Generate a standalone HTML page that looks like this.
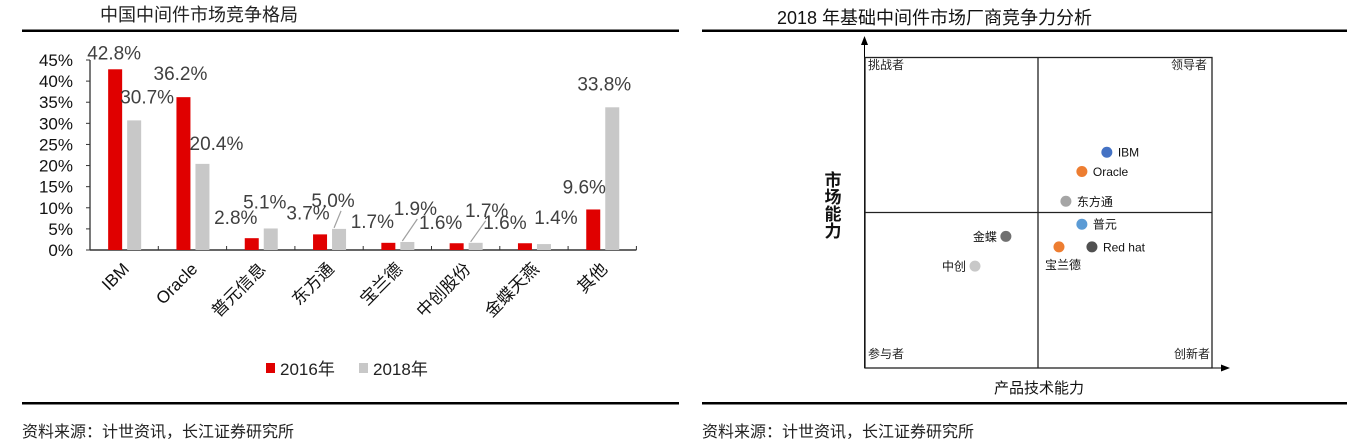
<!DOCTYPE html>
<html><head><meta charset="utf-8"><style>
html,body{margin:0;padding:0;background:#fff;}
svg{display:block;font-family:"Liberation Sans","Noto Sans CJK SC",sans-serif;}
</style></head><body>
<svg id="s" width="1358" height="441" viewBox="0 0 1358 441" xmlns="http://www.w3.org/2000/svg">
<g>
<text x="100" y="21" font-size="18" fill="#222">中国中间件市场竞争格局</text>
<rect x="22" y="29.5" width="657" height="2.5" fill="#000"/>
<rect x="22" y="402" width="657" height="2.5" fill="#000"/>
<text x="22" y="437" font-size="16" fill="#222">资料来源：计世资讯，长江证券研究所</text>
<g id="bars"></g>
<g>
<rect x="266" y="363" width="9" height="10" fill="#e00000"/>
<text x="280" y="375" font-size="17" fill="#222">2016年</text>
<rect x="359" y="363" width="9" height="10" fill="#c8c8c8"/>
<text x="373" y="375" font-size="17" fill="#222">2018年</text>
</g>
</g>
<g>
<text x="777" y="24" font-size="18" fill="#111">2018 年基础中间件市场厂商竞争力分析</text>
<rect x="702" y="29.5" width="645" height="2.5" fill="#000"/>
<rect x="702" y="402" width="645" height="2.5" fill="#000"/>
<text x="702" y="437" font-size="16" fill="#222">资料来源：计世资讯，长江证券研究所</text>
<g id="quad">
<line x1="864.5" y1="368" x2="864.5" y2="44" stroke="#000" stroke-width="1"/>
<polygon points="864.5,36 861,45 868,45" fill="#000"/>
<line x1="865" y1="368" x2="1222" y2="368" stroke="#000" stroke-width="1"/>
<polygon points="1230,368 1221,364.5 1221,371.5" fill="#000"/>
<rect x="865" y="57.5" width="347" height="310.5" fill="none" stroke="#222" stroke-width="1.3"/>
<line x1="1038" y1="57.5" x2="1038" y2="368" stroke="#222" stroke-width="1.3"/>
<line x1="865" y1="212.5" x2="1212" y2="212.5" stroke="#222" stroke-width="1.3"/>
<text x="868" y="69" font-size="12" fill="#222">挑战者</text>
<text x="1207" y="69" font-size="12" fill="#222" text-anchor="end">领导者</text>
<text x="868" y="358" font-size="12" fill="#222">参与者</text>
<text x="1210" y="358" font-size="12" fill="#222" text-anchor="end">创新者</text>
<text x="833" y="186" font-size="17" font-weight="bold" fill="#111" text-anchor="middle"><tspan x="833" dy="0">市</tspan><tspan x="833" dy="17">场</tspan><tspan x="833" dy="17">能</tspan><tspan x="833" dy="17">力</tspan></text>
<text x="1039" y="393" font-size="15" fill="#111" text-anchor="middle">产品技术能力</text>
</g>
</g>
</svg>
<script>
// ---- bar chart data ----
const categories = ["IBM","Oracle","普元信息","东方通","宝兰德","中创股份","金蝶天燕","其他"];
const values2016 = [42.8, 36.2, 2.8, 3.7, 1.7, 1.6, 1.6, 9.6];
const values2018 = [30.7, 20.4, 5.1, 5.0, 1.9, 1.7, 1.4, 33.8];
const yTicks = [0,5,10,15,20,25,30,35,40,45];
// ---- scatter data (scores 0-100) ----
const vendors = ["IBM","Oracle","东方通","普元","Red hat","宝兰德","金蝶","中创"];
const techScore = [69.7, 62.5, 57.9, 62.5, 65.4, 55.9, 40.6, 31.7];
const marketScore = [69.5, 63.3, 53.7, 46.3, 39.0, 39.0, 42.4, 32.8];

const NS = "http://www.w3.org/2000/svg";
function mk(tag, attrs, parent){const e=document.createElementNS(NS,tag);for(const k in attrs)e.setAttribute(k,attrs[k]);parent.appendChild(e);return e;}

// axis functions
const X0=90, CW=68.3, Y0=250, PPU=190/45;
const yS = v => Y0 - v*PPU;
const cx = i => X0 + CW*(i+0.5);

const g = document.getElementById('bars');
let ax = mk('line',{x1:X0,y1:60,x2:X0,y2:Y0,stroke:'#333','stroke-width':1.3},g);


yTicks.forEach(t=>{
  const l=mk('line',{x1:X0-4,y1:yS(t),x2:X0,y2:yS(t),stroke:'#333','stroke-width':1},g);
  
  
  const tx=mk('text',{x:73,y:yS(t)+6,'font-size':17,'text-anchor':'end',fill:'#111'},g);
  tx.textContent=t+'%';
  
  
});
let xa = mk('line',{x1:X0,y1:Y0,x2:X0+CW*categories.length,y2:Y0,stroke:'#333','stroke-width':1.5},g);


for(let i=0;i<=categories.length;i++){
  const l=mk('line',{x1:X0+CW*i,y1:Y0,x2:X0+CW*i,y2:Y0-4,stroke:'#333','stroke-width':1},g);
  
  
}
const lab16 = [[-1,-10],[-3,-17],[-16,-14],[-12,-15],[-16,-15],[-16,-14],[-20,-14],[-9,-16]];
const lab18 = [[13,-17],[14,-14],[-6,-20],[-6,-22],[8,-27],[11,-26],[12,-20],[-8,-17]];
const leader = [false,false,false,true,true,true,false,false];
categories.forEach((c,i)=>{
  const c0=cx(i);
  const r=mk('rect',{x:c0-16,y:yS(values2016[i]),width:14,height:Y0-yS(values2016[i]),fill:'#e00000'},g);
  
  
  const b=mk('rect',{x:c0+3,y:yS(values2018[i]),width:14,height:Y0-yS(values2018[i]),fill:'#c8c8c8'},g);
  
  
  const t1=mk('text',{x:c0-9+lab16[i][0],y:yS(values2016[i])+lab16[i][1],'font-size':19,'text-anchor':'middle',fill:'#404040'},g);
  t1.textContent=values2016[i].toFixed(1)+'%';
  
  
  const t2=mk('text',{x:c0+10+lab18[i][0],y:yS(values2018[i])+lab18[i][1],'font-size':19,'text-anchor':'middle',fill:'#404040'},g);
  t2.textContent=values2018[i].toFixed(1)+'%';
  
  
  if(leader[i]){
    const top=yS(values2018[i]);
    const ll=mk('line',{x1:c0+5,y1:top-1,x2:c0+5+(lab18[i][0]>4?15:7),y2:yS(values2018[i])+lab18[i][1]+4,stroke:'#a0a0a0','stroke-width':1.2},g);
    
    
  }
  const cl=mk('text',{x:c0+6,y:Y0+20,'font-size':17,'text-anchor':'end',fill:'#111',transform:`rotate(-45 ${c0+6} ${Y0+20})`},g);
  cl.textContent=c;
  
  
});

// scatter
const q=document.getElementById('quad');
const qx = s => 865 + s*3.47;
const qy = s => 368 - s*3.105;
const colors = ['#4472c4','#ed7d31','#a5a5a5','#5b9bd5','#505050','#ed7d31','#707070','#c8c8c8'];
const labelPos = ['right','right','right','right','right','below','left','left'];
vendors.forEach((v,i)=>{
  const x=qx(techScore[i]), y=qy(marketScore[i]);
  const d=mk('circle',{cx:x,cy:y,r:5.5,fill:colors[i]},q);
  
  
  let a={x:x+11,y:y+4.5,'text-anchor':'start'};
  if(labelPos[i]==='left') a={x:x-9,y:y+4.5,'text-anchor':'end'};
  if(labelPos[i]==='below') a={x:x+4,y:y+22,'text-anchor':'middle'};
  const t=mk('text',Object.assign({'font-size':12,fill:'#111'},a),q);
  t.textContent=v;
  
  
});
</script>
</body></html>
